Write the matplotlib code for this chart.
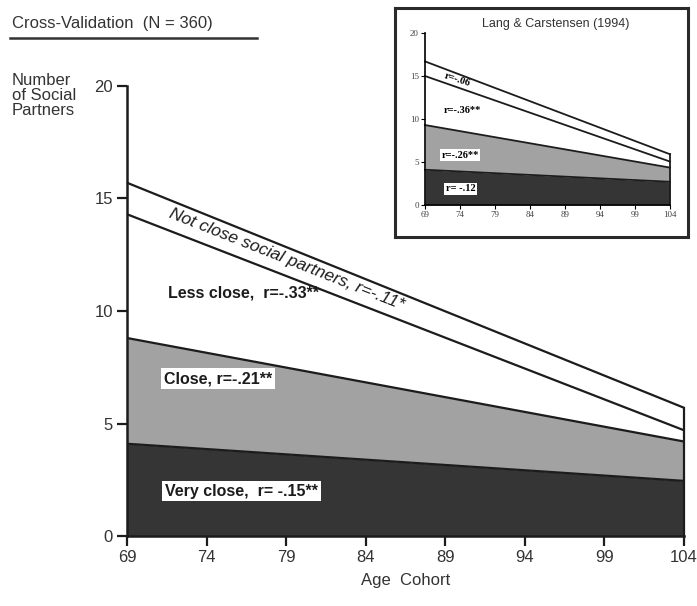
import matplotlib
matplotlib.use("Agg")
import matplotlib.pyplot as plt
from matplotlib.lines import Line2D

# main chart: cumulative tops of each band (cross-validation sample)
ages = [69, 104]
very_close = [4.1, 2.45]
close = [8.8, 4.2]
less_close = [14.3, 4.7]
not_close = [15.7, 5.7]

# inset: Lang & Carstensen (1994)
lc_very_close = [4.1, 2.7]
lc_close = [9.3, 4.35]
lc_less_close = [15.0, 5.05]
lc_not_close = [16.7, 5.9]

x_ticks = [69, 74, 79, 84, 89, 94, 99, 104]
y_ticks = [0, 5, 10, 15, 20]

main_labels = ["Very close,  r= -.15**", "Close, r=-.21**",
               "Less close,  r=-.33**", "Not close social partners, r=-.11*"]
inset_labels = ["r= -.12", "r=-.26**", "r=-.36**", "r=-.06"]

DARK = "#353535"
GRAY = "#a2a2a2"
INK = "#1c1c1c"

plt.rcParams["font.family"] = ["Liberation Sans", "DejaVu Sans"]

fig = plt.figure(figsize=(6.97, 6.06), dpi=100)

# ---- main axes
ax = fig.add_axes([0.1822, 0.1155, 0.7991, 0.7426])
ax.fill_between(ages, 0, very_close, color=DARK, lw=0)
ax.fill_between(ages, very_close, close, color=GRAY, lw=0)
for top in (very_close, close, less_close, not_close):
    ax.plot(ages, top, color=INK, lw=1.6, clip_on=False, solid_capstyle="butt")
ax.plot([ages[-1], ages[-1]], [0, not_close[-1]], color=INK, lw=1.6, clip_on=False)

ax.set_xlim(69, 104)
ax.set_ylim(0, 20)
ax.set_xticks(x_ticks)
ax.set_yticks(y_ticks)
for s in ("top", "right"):
    ax.spines[s].set_visible(False)
for s in ("left", "bottom"):
    ax.spines[s].set_linewidth(1.8)
    ax.spines[s].set_color(INK)
ax.tick_params(length=7, width=1.6, color=INK, labelsize=12, labelcolor="#333333", pad=3)
ax.set_xlabel("Age  Cohort", fontsize=12, color="#333333", labelpad=6)

box = dict(facecolor="white", edgecolor="none", pad=2)
ax.text(71.4, 2.0, main_labels[0], fontsize=11.5, fontweight="bold", color=INK,
        va="center", bbox=box)
ax.text(71.3, 7.0, main_labels[1], fontsize=11.5, fontweight="bold", color=INK,
        va="center", bbox=box)
ax.text(71.6, 10.8, main_labels[2], fontsize=11.5, fontweight="bold", color=INK,
        va="center")
ax.text(79.0, 12.3, main_labels[3], fontsize=12.5, style="italic", color=INK,
        rotation=-21.6, ha="center", va="center", rotation_mode="anchor")

# title with underline
fig.text(0.0168, 0.962, "Cross-Validation  (N = 360)", fontsize=12,
         color="#333333", va="center")
fig.add_artist(Line2D([0.0143, 0.3687], [0.9365, 0.9365], color="#333333", lw=1.8))

fig.text(0.0168, 0.879, "Number\nof Social\nPartners", fontsize=12,
         color="#333333", va="top", linespacing=1.0)

# ---- inset frame
frame = fig.add_axes([0.5667, 0.6089, 0.4204, 0.3779])
frame.set_xticks([])
frame.set_yticks([])
for s in frame.spines.values():
    s.set_linewidth(2.2)
    s.set_color("#2a2a2a")

ins = fig.add_axes([0.6098, 0.6617, 0.3515, 0.2838])
ins.fill_between(ages, 0, lc_very_close, color=DARK, lw=0)
ins.fill_between(ages, lc_very_close, lc_close, color=GRAY, lw=0)
for top in (lc_very_close, lc_close, lc_less_close, lc_not_close):
    ins.plot(ages, top, color=INK, lw=1.3, clip_on=False)
ins.plot([ages[-1], ages[-1]], [0, lc_not_close[-1]], color=INK, lw=1.3, clip_on=False)
ins.set_xlim(69, 104)
ins.set_ylim(0, 20)
ins.set_xticks(x_ticks)
ins.set_yticks(y_ticks)
ins.patch.set_alpha(0)
for s in ("top", "right"):
    ins.spines[s].set_visible(False)
for s in ("left", "bottom"):
    ins.spines[s].set_linewidth(1.2)
for lab in ins.get_xticklabels() + ins.get_yticklabels():
    lab.set_family(["Liberation Serif", "DejaVu Serif"])
ins.tick_params(length=3, width=0.8, labelsize=6.5, labelcolor="#444444", pad=1.5)
ins.text(0.535, 1.05, "Lang & Carstensen (1994)", transform=ins.transAxes,
         fontsize=9, color="#333333", ha="center", va="center")

sbox = dict(facecolor="white", edgecolor="none", pad=1.2)
serif = ["Liberation Serif", "DejaVu Serif"]
ins.text(74.1, 1.9, inset_labels[0], family=serif, fontsize=7.5, fontweight="bold",
         ha="center", va="center", bbox=sbox)
ins.text(74.0, 5.8, inset_labels[1], family=serif, fontsize=7.5, fontweight="bold",
         ha="center", va="center", bbox=sbox)
ins.text(74.3, 11.0, inset_labels[2], family=serif, fontsize=7.5, fontweight="bold",
         ha="center", va="center")
ins.text(73.6, 14.6, inset_labels[3], family=serif, fontsize=7.5, fontweight="bold",
         ha="center", va="center", rotation=-18)

fig.savefig("out.png", dpi=100)
